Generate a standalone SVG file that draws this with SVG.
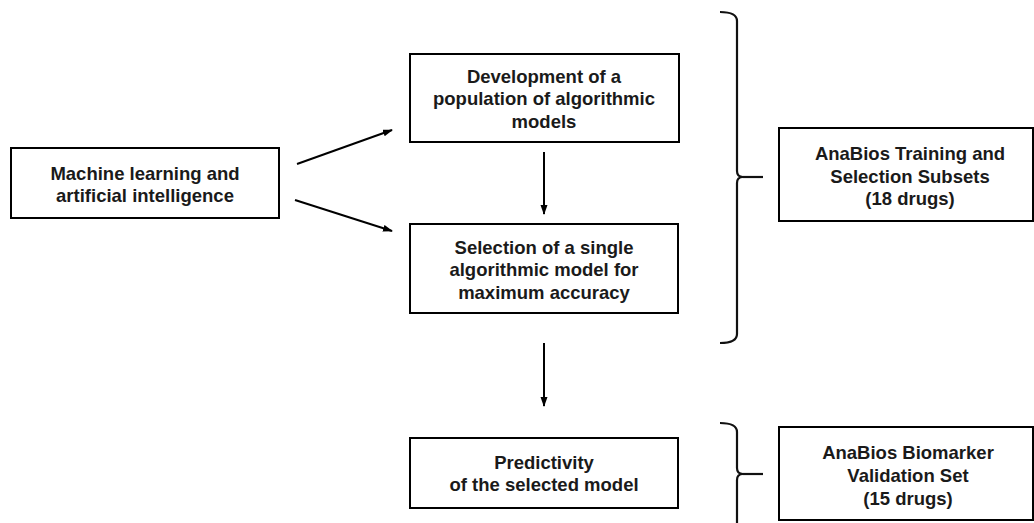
<svg xmlns="http://www.w3.org/2000/svg" width="1034" height="523" viewBox="0 0 1034 523">
<style>
.box{fill:#fff;stroke:#000;stroke-width:2}
.t{font-family:"Liberation Sans",Arial,sans-serif;font-weight:bold;font-size:18.5px;fill:#1a1a1a;text-anchor:middle}
.c{fill:none;stroke:#000;stroke-width:2}
.br{fill:none;stroke:#111;stroke-width:2.2}
</style>
<defs>
<marker id="ah" markerWidth="10" markerHeight="8" refX="9" refY="3.5" orient="auto" markerUnits="userSpaceOnUse">
<path d="M0,0 L10,3.5 L0,7 Z" fill="#000"/>
</marker>
</defs>
<rect width="1034" height="523" fill="#fff"/>
<g id="connectors">
<line class="c" x1="297" y1="164" x2="392" y2="130" marker-end="url(#ah)"/>
<line class="c" x1="295" y1="200" x2="392" y2="231" marker-end="url(#ah)"/>
<line class="c" x1="544" y1="152" x2="544" y2="214" marker-end="url(#ah)"/>
<line class="c" x1="544" y1="343" x2="544" y2="406" marker-end="url(#ah)"/>
<path class="br" d="M720,12 Q737,12 737,21 L737,171 Q737,177 743,177 Q737,177 737,183 L737,334 Q737,343 720,343"/>
<line class="br" x1="743" y1="177" x2="763" y2="177"/>
<path class="br" d="M720,423 Q737,423 737,432 L737,468 Q737,474 743,474 Q737,474 737,480 L737,523"/>
<line class="br" x1="743" y1="474" x2="763" y2="474"/>
</g>
<g id="ml">
<rect class="box" x="11" y="148" width="268" height="70"/>
<text class="t" x="145" y="179.5">Machine learning and</text>
<text class="t" x="145" y="201.5">artificial intelligence</text>
</g>
<g id="dev">
<rect class="box" x="410" y="54" width="269" height="88"/>
<text class="t" x="544" y="82.5">Development of a</text>
<text class="t" x="544" y="104.5">population of algorithmic</text>
<text class="t" x="544" y="127.5">models</text>
</g>
<g id="sel">
<rect class="box" x="410" y="224" width="268" height="89"/>
<text class="t" x="544" y="253.5">Selection of a single</text>
<text class="t" x="544" y="275.5">algorithmic model for</text>
<text class="t" x="544" y="298.5">maximum accuracy</text>
</g>
<g id="pred">
<rect class="box" x="410" y="438" width="268" height="70"/>
<text class="t" x="544" y="468.5">Predictivity</text>
<text class="t" x="544" y="490.5">of the selected model</text>
</g>
<g id="train">
<rect class="box" x="779" y="128" width="254" height="93"/>
<text class="t" x="910" y="159.5">AnaBios Training and</text>
<text class="t" x="910" y="182.5">Selection Subsets</text>
<text class="t" x="910" y="204.5">(18 drugs)</text>
</g>
<g id="valid">
<rect class="box" x="779" y="427" width="254" height="93"/>
<text class="t" x="908" y="458.5">AnaBios Biomarker</text>
<text class="t" x="908" y="481.5">Validation Set</text>
<text class="t" x="908" y="504.5">(15 drugs)</text>
</g>
</svg>
